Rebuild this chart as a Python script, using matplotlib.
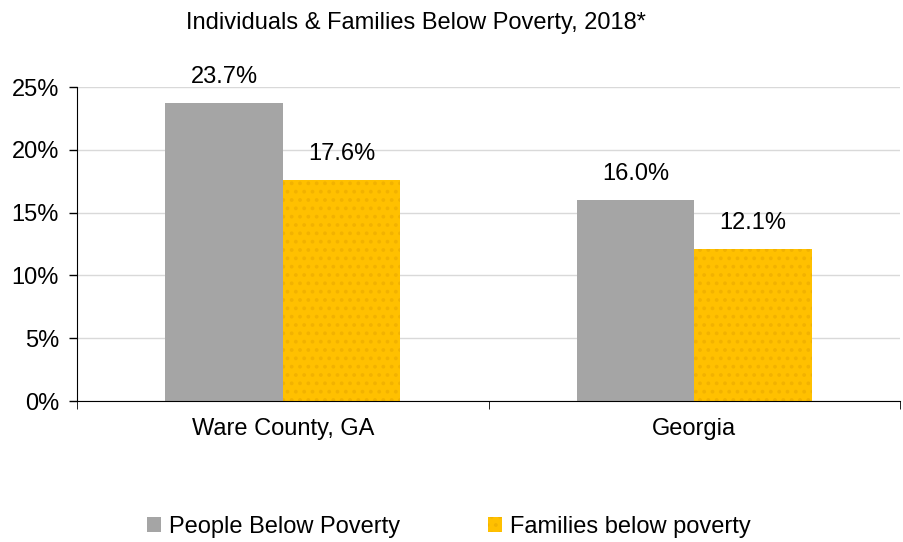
import matplotlib.pyplot as plt
import numpy as np

plt.rcParams["font.family"] = ["Liberation Sans", "DejaVu Sans"]
plt.rcParams["hatch.linewidth"] = 1.5

# poverty rates (%)
areas = ["Ware County, GA", "Georgia"]
people_below = [23.7, 16.0]
families_below = [17.6, 12.1]
series_names = ["People Below Poverty", "Families below poverty"]
yticks = [0, 5, 10, 15, 20, 25]

fs = 17

fig = plt.figure(figsize=(9.04, 5.42), dpi=100)
ax = fig.add_axes([77 / 904, 1 - 401 / 542, 823 / 904, 314 / 542])

x = np.arange(len(areas))
w = 0.285
b1 = ax.bar(x - w / 2, people_below, w, color="#A5A5A5", label=series_names[0], zorder=2)
b2 = ax.bar(x + w / 2, families_below, w, color="#FFC000", edgecolor="#F2B200",
            hatch="..", linewidth=0, label=series_names[1], zorder=2)

for bars, vals in ((b1, people_below), (b2, families_below)):
    for r, v in zip(bars, vals):
        ax.annotate(f"{v:.1f}%", (r.get_x() + r.get_width() / 2, v), xytext=(0, 11),
                    textcoords="offset points", ha="center", va="bottom", fontsize=fs)

ax.set_xlim(-0.5, 1.5)
ax.set_ylim(0, 25)
ax.set_yticks(yticks)
ax.set_yticklabels([f"{t}%" for t in yticks], fontsize=fs)
ax.set_xticks(x)
ax.set_xticklabels(areas, fontsize=fs)
ax.tick_params(axis="x", length=0, pad=12.5)
ax.tick_params(axis="y", length=6, width=1, pad=7)
# category separators on the bottom axis
ax.set_xticks([-0.5, 0.5, 1.5], minor=True)
ax.tick_params(axis="x", which="minor", length=6, direction="out")

ax.grid(axis="y", color="#D9D9D9", linewidth=1, zorder=0)
for s in ("top", "right"):
    ax.spines[s].set_visible(False)
ax.spines["left"].set_color("black")
ax.spines["bottom"].set_color("black")

fig.text(416 / 904, 1 - 23 / 542, "Individuals & Families Below Poverty, 2018*",
         ha="center", va="center", fontsize=17)

fig.legend(handles=[b1, b2], loc="center", bbox_to_anchor=(449 / 904, 1 - 527 / 542), ncol=2,
           frameon=False, fontsize=fs, handlelength=0.58, handleheight=0.58,
           handletextpad=0.35, columnspacing=3.7)

fig.savefig("out.png", dpi=100)
